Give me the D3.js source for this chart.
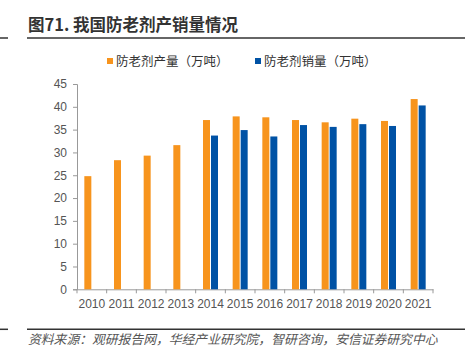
<!DOCTYPE html>
<html><head><meta charset="utf-8">
<script src="https://cdn.jsdelivr.net/npm/d3@7"></script>
<style>body{margin:0;background:#fff}svg{display:block}</style>
</head><body>
<script>
const years = ["2010","2011","2012","2013","2014","2015","2016","2017","2018","2019","2020","2021"];
const production = [24.8,28.3,29.3,31.6,37.1,37.9,37.7,37.1,36.6,37.4,36.9,41.7];
const sales = [null,null,null,null,33.7,34.9,33.5,36.0,35.6,36.2,35.8,40.3];
const yTicks = [0,5,10,15,20,25,30,35,40,45];
const seriesNames = ["防老剂产量（万吨）","防老剂销量（万吨）"];
const colors = ["#F7941D","#0052A5"];

const W=465,H=352;
const svg=d3.select("body").append("svg").attr("width",W).attr("height",H);
const fontCJK='"Noto Sans CJK SC","Noto Sans",sans-serif';

// title
svg.append("text").attr("x",28).attr("y",31).attr("font-family",fontCJK).attr("font-weight","bold")
  .attr("font-size",16.5).attr("fill","#333").text("图71. 我国防老剂产销量情况");
svg.append("line").attr("x1",27).attr("x2",465).attr("y1",38).attr("y2",38).attr("stroke","#333").attr("stroke-width",1.5);
svg.append("line").attr("x1",0).attr("x2",8).attr("y1",38).attr("y2",38).attr("stroke","#333").attr("stroke-width",1.5);

const x=d3.scaleBand().domain(years).range([77,433]);
const y=d3.scaleLinear().domain([0,45]).range([289.3,84]);

// y axis
const ya=svg.append("g").attr("transform","translate(77,0)").call(d3.axisLeft(y).tickValues(yTicks).tickSize(4).tickPadding(6));
ya.select(".domain").attr("stroke","#999");
ya.selectAll(".tick line").attr("stroke","#999");
ya.selectAll("text").attr("font-family","Liberation Sans, Arial, sans-serif").attr("font-size",12).attr("fill","#555");

const xa=svg.append("g").attr("transform","translate(0,289.3)").call(d3.axisBottom(x).tickSize(4).tickPadding(6).tickSizeOuter(0));
xa.select(".domain").attr("stroke","#999");
xa.selectAll(".tick line").remove();
const edges=years.map(d=>x(d)).concat([x(years[years.length-1])+x.bandwidth()]);
xa.selectAll(".edge").data(edges).enter().append("line").attr("x1",d=>d).attr("x2",d=>d).attr("y1",0).attr("y2",4).attr("stroke","#999");
xa.selectAll("text").attr("font-family","Liberation Sans, Arial, sans-serif").attr("font-size",12).attr("fill","#555");

const bw=7, gap=1;
svg.append("g").selectAll("rect").data(years.map((d,i)=>({year:d,v:production[i]}))).enter().append("rect")
  .attr("x",d=>x(d.year)+x.bandwidth()/2-gap/2-bw)
  .attr("y",d=>y(d.v)).attr("width",bw).attr("height",d=>y(0)-y(d.v)).attr("fill",colors[0]);
svg.append("g").selectAll("rect").data(years.map((d,i)=>({year:d,v:sales[i]})).filter(d=>d.v!=null)).enter().append("rect")
  .attr("x",d=>x(d.year)+x.bandwidth()/2+gap/2)
  .attr("y",d=>y(d.v)).attr("width",bw).attr("height",d=>y(0)-y(d.v)).attr("fill",colors[1]);

// legend
const lg=svg.append("g");
const lx=[107,255];
seriesNames.forEach((n,i)=>{
  lg.append("rect").attr("x",lx[i]).attr("y",58).attr("width",6).attr("height",6).attr("fill",colors[i]);
  lg.append("text").attr("x",lx[i]+9).attr("y",66).attr("font-family",fontCJK).attr("font-size",12.5).attr("fill","#333").text(n);
});

// footer
svg.append("line").attr("x1",27).attr("x2",465).attr("y1",329.3).attr("y2",329.3).attr("stroke","#333").attr("stroke-width",1.5);
svg.append("line").attr("x1",0).attr("x2",8).attr("y1",329.3).attr("y2",329.3).attr("stroke","#333").attr("stroke-width",1.5);
svg.append("text").attr("x",28).attr("y",344).attr("font-family",fontCJK).attr("font-style","italic")
  .attr("font-size",12.8).attr("fill","#555").text("资料来源：观研报告网，华经产业研究院，智研咨询，安信证券研究中心");
</script>
</body></html>
